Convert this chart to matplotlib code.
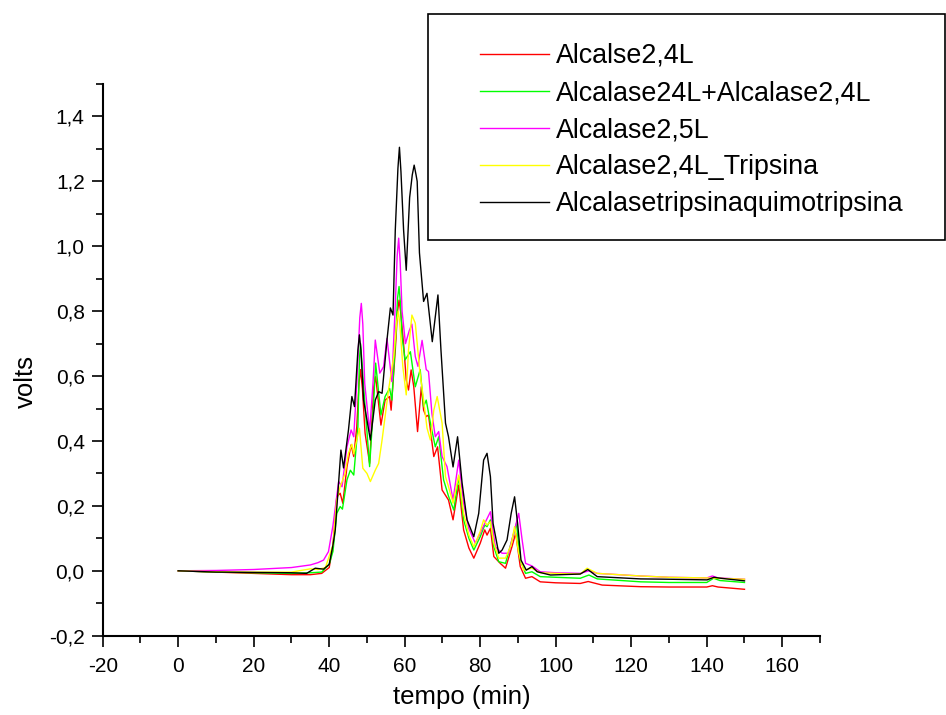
import matplotlib
matplotlib.use('Agg')
import matplotlib.pyplot as plt
from matplotlib.patches import Rectangle

# ── data (time in min, signal in volts) ──────────────────────────────────────
labels = ['Alcalse2,4L', 'Alcalase24L+Alcalase2,4L', 'Alcalase2,5L',
          'Alcalase2,4L_Tripsina', 'Alcalasetripsinaquimotripsina']
colors = ['#ff0000', '#00ff00', '#ff00ff', '#ffff00', '#000000']

t_a24 = [0, 10, 20, 30, 35, 38, 40, 41, 42, 42.9, 43.6, 44.7, 45.8, 46.5, 47.3,
         47.9, 48.3, 48.8, 49.5, 50.7, 51.8, 52.3, 53.7, 54.8, 56.0, 56.4, 57.5,
         58.1, 58.5, 58.9, 59.7, 60.4, 61.0, 61.7, 62.4, 63.4, 64.4, 65.0, 65.7,
         66.3, 67.7, 68.7, 69.9, 71.6, 72.8, 74.3, 75.6, 77, 78.3, 80.0, 81.2,
         81.8, 82.7, 83.6, 85.3, 86.7, 88.4, 89.4, 90.6, 92.0, 93.7, 95.9, 100,
         106.5, 108.6, 112.3, 122.5, 130, 140, 141.5, 143, 150]
v_a24 = [0, -0.004, -0.008, -0.012, -0.012, -0.008, 0.01, 0.08, 0.228, 0.239,
         0.208, 0.321, 0.388, 0.352, 0.444, 0.58, 0.62, 0.56, 0.424, 0.331,
         0.567, 0.598, 0.449, 0.526, 0.537, 0.495, 0.68, 0.80, 0.834, 0.80, 0.70,
         0.588, 0.557, 0.619, 0.567, 0.429, 0.567, 0.495, 0.475, 0.48, 0.352,
         0.382, 0.249, 0.218, 0.157, 0.264, 0.126, 0.07, 0.039, 0.085, 0.126,
         0.11, 0.131, 0.044, 0.023, 0.008, 0.074, 0.116, 0.013, -0.023, -0.018,
         -0.034, -0.037, -0.039, -0.033, -0.044, -0.049, -0.05, -0.05, -0.046,
         -0.05, -0.057]

t_mix = [0, 10, 20, 30, 35, 38, 40, 41, 42.0, 42.9, 43.5, 44.7, 45.6, 46.5,
         47.6, 48.0, 48.3, 48.7, 49.5, 50.7, 51.8, 52.3, 53.7, 54.8, 56.0, 56.6,
         57.6, 58.1, 58.5, 58.9, 59.3, 60.1, 61.5, 62.8, 64.1, 65.0, 65.7, 66.8,
         68.1, 69.0, 70.3, 71.6, 73.0, 74.3, 75.6, 77, 78.3, 80.0, 81.2, 81.8,
         82.7, 83.6, 84.9, 86.7, 88.4, 89.6, 90.6, 92.0, 93.7, 95.9, 100, 106.5,
         108.8, 111, 122.5, 130, 140, 141.8, 143.5, 150]
v_mix = [0, -0.004, -0.006, -0.008, -0.006, -0.004, 0.02, 0.06, 0.177, 0.198,
         0.19, 0.28, 0.31, 0.295, 0.444, 0.65, 0.70, 0.64, 0.506, 0.321, 0.526,
         0.64, 0.48, 0.537, 0.562, 0.526, 0.72, 0.84, 0.876, 0.82, 0.72, 0.65,
         0.675, 0.567, 0.62, 0.506, 0.526, 0.455, 0.382, 0.413, 0.28, 0.23,
         0.187, 0.29, 0.157, 0.10, 0.064, 0.105, 0.141, 0.136, 0.157, 0.074,
         0.028, 0.023, 0.095, 0.146, 0.033, -0.008, -0.003, -0.018, -0.02,
         -0.023, -0.013, -0.025, -0.034, -0.036, -0.036, -0.023, -0.03, -0.036]

t_a25 = [0, 10, 20, 30, 35, 37, 38.5, 39.8, 41.0, 42.5, 43.4, 44.7, 45.8, 46.5,
         47.3, 48.1, 48.5, 48.9, 49.4, 50.7, 51.6, 52.2, 53.4, 54.4, 55.3, 56.6,
         57.5, 58.0, 58.4, 58.8, 59.3, 60.2, 61.2, 61.9, 62.8, 63.5, 64.6, 65.7,
         66.3, 67.2, 68.1, 69.0, 69.9, 71.2, 72.8, 74.3, 75.6, 77, 78.7, 80.0,
         81.4, 82.7, 84.0, 85.8, 87.5, 89.3, 90.2, 91.1, 92.0, 93.7, 95.9, 100,
         106.5, 108.8, 111, 122.5, 130, 140, 141.5, 143, 150]
v_a25 = [0, 0.001, 0.004, 0.01, 0.018, 0.025, 0.033, 0.059, 0.14, 0.275, 0.259,
         0.382, 0.434, 0.413, 0.578, 0.78, 0.824, 0.76, 0.578, 0.429, 0.578,
         0.711, 0.609, 0.629, 0.716, 0.583, 0.82, 0.97, 1.025, 0.95, 0.80, 0.70,
         0.74, 0.76, 0.66, 0.63, 0.71, 0.62, 0.614, 0.485, 0.413, 0.429, 0.352,
         0.321, 0.218, 0.341, 0.208, 0.13, 0.085, 0.116, 0.151, 0.182, 0.074,
         0.054, 0.054, 0.136, 0.177, 0.095, 0.023, 0.015, -0.003, -0.006, -0.008,
         0.0, -0.008, -0.016, -0.02, -0.022, -0.016, -0.022, -0.026]

t_tri = [0, 10, 20, 30, 35, 37, 39, 41, 42.0, 42.9, 44.2, 45.1, 46.0, 46.5, 47.3,
         48.0, 48.9, 50.0, 50.9, 52.2, 53.1, 54.0, 54.8, 55.7, 57.1, 57.9, 58.3,
         58.7, 59.5, 60.4, 61.0, 61.9, 62.8, 64.0, 65.0, 65.9, 66.8, 67.7, 68.6,
         69.9, 70.8, 71.6, 72.8, 74.3, 75.6, 77, 78.3, 80.0, 80.9, 81.8, 82.7,
         83.6, 84.9, 86.7, 88.2, 89.1, 90.2, 91.5, 93.7, 95.9, 100, 106.5, 108.3,
         111, 122.5, 130, 140, 150]
v_tri = [0, -0.003, -0.004, -0.004, 0.006, 0.004, 0.01, 0.08, 0.218, 0.259, 0.30,
         0.362, 0.39, 0.36, 0.403, 0.439, 0.316, 0.30, 0.275, 0.31, 0.331, 0.403,
         0.475, 0.557, 0.66, 0.77, 0.80, 0.76, 0.629, 0.542, 0.68, 0.788, 0.763,
         0.614, 0.526, 0.44, 0.403, 0.495, 0.537, 0.455, 0.29, 0.259, 0.208,
         0.295, 0.177, 0.11, 0.074, 0.121, 0.157, 0.141, 0.151, 0.085, 0.039,
         0.039, 0.08, 0.136, 0.054, 0.002, 0.008, -0.006, -0.008, -0.01, 0.008,
         -0.008, -0.016, -0.02, -0.022, -0.026]

t_aqt = [0, 10, 20, 30, 34, 36.3, 38.5, 40, 41.0, 41.6, 43.1, 43.8, 45.1, 46.0,
         46.7, 47.6, 48.0, 48.4, 49.1, 50.9, 52.2, 53.1, 54.0, 55.3, 56.2, 56.9,
         57.5, 58.2, 58.6, 59.0, 59.7, 60.4, 61.3, 62.0, 62.5, 63.0, 63.3, 63.9,
         65.0, 65.9, 67.3, 68.8, 69.6, 70.8, 71.6, 72.8, 74.0, 75.2, 76.5, 78.3,
         79.6, 80.9, 81.8, 82.7, 83.4, 84.9, 85.8, 87.1, 88.2, 89.1, 89.9, 90.8,
         92.2, 93.7, 95.1, 98.6, 106.5, 108.5, 111.0, 122.5, 130, 140.1, 141.9,
         143.7, 150]
v_aqt = [0, -0.004, -0.005, -0.006, -0.008, 0.008, 0.005, 0.02, 0.08, 0.126,
         0.372, 0.317, 0.434, 0.537, 0.506, 0.68, 0.727, 0.68, 0.526, 0.403,
         0.526, 0.552, 0.547, 0.711, 0.81, 0.788, 1.05, 1.24, 1.305, 1.23, 1.05,
         0.926, 1.15, 1.22, 1.25, 1.22, 1.20, 0.98, 0.83, 0.855, 0.706, 0.85,
         0.68, 0.455, 0.413, 0.32, 0.413, 0.27, 0.157, 0.105, 0.177, 0.341,
         0.362, 0.29, 0.146, 0.054, 0.064, 0.095, 0.177, 0.228, 0.146, 0.033,
         0.002, 0.013, -0.003, -0.013, -0.01, 0.004, -0.018, -0.025, -0.026,
         -0.028, -0.02, -0.023, -0.031]

series_t = [t_a24, t_mix, t_a25, t_tri, t_aqt]
series_v = [v_a24, v_mix, v_a25, v_tri, v_aqt]

x_ticks = list(range(-20, 161, 20))
y_ticks = [-0.2, 0.0, 0.2, 0.4, 0.6, 0.8, 1.0, 1.2, 1.4]

# ── figure ───────────────────────────────────────────────────────────────────
plt.rcParams['font.family'] = ['Liberation Sans', 'DejaVu Sans']
plt.rcParams['axes.unicode_minus'] = False

fig = plt.figure(figsize=(9.46, 7.15), dpi=100)
W, H = 946.0, 715.0
ax = fig.add_axes([102.7 / W, 1 - 635.7 / H, (820 - 102.7) / W, (635.7 - 84) / H])

lines = []
for t, v, lab, col in zip(series_t, series_v, labels, colors):
    ln, = ax.plot(t, v, color=col, linewidth=1.0, label=lab)
    lines.append(ln)

ax.set_xlim(-20, 170)
ax.set_ylim(-0.2, 1.5)
ax.set_xticks(x_ticks)
ax.set_xticks([x + 10 for x in range(-20, 161, 20)], minor=True)
ax.set_yticks(y_ticks)
ax.set_yticks([-0.1 + 0.2 * i for i in range(9)], minor=True)
ax.set_yticklabels([('%.1f' % y).replace('.', ',') for y in y_ticks])

for s in ('top', 'right'):
    ax.spines[s].set_visible(False)
for s in ('left', 'bottom'):
    ax.spines[s].set_linewidth(1.5)

ax.tick_params(which='major', direction='out', length=8, width=1.2,
               labelsize=15, pad=5)
ax.tick_params(axis='x', which='major', pad=7)
ax.tick_params(which='minor', direction='out', length=5, width=1.2)

ax.set_xlabel('tempo (min)', fontsize=18.5, labelpad=7)
ax.set_ylabel('volts', fontsize=18.5)
ax.yaxis.set_label_coords(-0.09, 0.46)

# legend frame running off the right edge, like the original export
fig.patches.append(Rectangle((428 / W, 1 - 240 / H), (945 - 428) / W, 226 / H,
                             transform=fig.transFigure, facecolor='white',
                             edgecolor='black', linewidth=1.2, zorder=5))
leg = fig.legend(handles=lines, loc='upper left', frameon=False,
                 bbox_to_anchor=(480 / W, 1 - 43 / H),
                 bbox_transform=fig.transFigure, fontsize=19.4,
                 borderpad=0, borderaxespad=0, handlelength=2.56,
                 handletextpad=0.26, labelspacing=0.41)
leg.set_zorder(6)

fig.savefig('out.png', dpi=100)
